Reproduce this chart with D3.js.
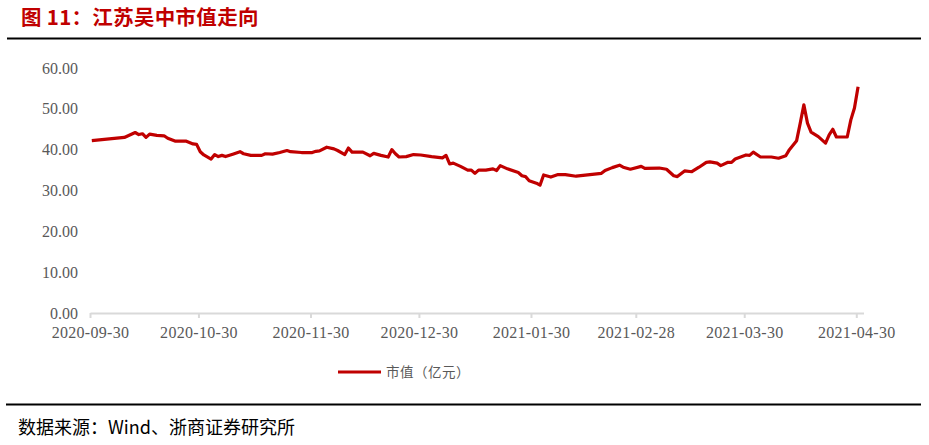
<!DOCTYPE html>
<html><head><meta charset="utf-8">
<script src="https://cdn.jsdelivr.net/npm/d3@7"></script>
<style>body{margin:0;background:#fff}</style>
</head><body><svg id="c" width="929" height="445"></svg>
<script>
const titleText = "图 11：江苏吴中市值走向";
const sourceText = "数据来源：Wind、浙商证券研究所";
const seriesName = "市值（亿元）";

const dates = [
 "2020-09-30","2020-10-09","2020-10-12","2020-10-13","2020-10-14","2020-10-15","2020-10-16","2020-10-18",
 "2020-10-20","2020-10-21","2020-10-23","2020-10-26","2020-10-28","2020-10-29","2020-10-30","2020-10-31",
 "2020-11-02","2020-11-03","2020-11-04","2020-11-05","2020-11-06","2020-11-08","2020-11-10","2020-11-11",
 "2020-11-13","2020-11-16","2020-11-17","2020-11-19","2020-11-21","2020-11-23","2020-11-24","2020-11-27",
 "2020-11-30","2020-12-01","2020-12-02","2020-12-04","2020-12-06","2020-12-07","2020-12-09","2020-12-10",
 "2020-12-11","2020-12-14","2020-12-16","2020-12-17","2020-12-19","2020-12-21","2020-12-22","2020-12-23",
 "2020-12-24","2020-12-26","2020-12-28","2020-12-30","2021-01-02","2021-01-05","2021-01-06","2021-01-07",
 "2021-01-08","2021-01-10","2021-01-12","2021-01-13","2021-01-14","2021-01-15","2021-01-17","2021-01-19",
 "2021-01-20","2021-01-21","2021-01-23","2021-01-26","2021-01-27","2021-01-28","2021-01-29","2021-01-31",
 "2021-02-01","2021-02-02","2021-02-04","2021-02-06","2021-02-08","2021-02-11","2021-02-18","2021-02-19",
 "2021-02-21","2021-02-23","2021-02-24","2021-02-26","2021-03-01","2021-03-02","2021-03-06","2021-03-08",
 "2021-03-10","2021-03-11","2021-03-13","2021-03-15","2021-03-17","2021-03-19","2021-03-20","2021-03-22",
 "2021-03-23","2021-03-25","2021-03-26","2021-03-27","2021-03-30","2021-03-31","2021-04-01","2021-04-03",
 "2021-04-06","2021-04-08","2021-04-10","2021-04-11","2021-04-13","2021-04-14","2021-04-15","2021-04-16",
 "2021-04-17","2021-04-19","2021-04-21","2021-04-22","2021-04-23","2021-04-24","2021-04-27","2021-04-28",
 "2021-04-29","2021-04-30"
];
const values = [
 42.2,43.0,44.2,43.7,43.9,43.0,43.8,43.5,
 43.4,42.8,42.1,42.1,41.4,41.3,39.5,38.7,
 37.7,38.8,38.3,38.6,38.3,38.9,39.5,39.0,
 38.6,38.6,39.0,38.9,39.3,39.8,39.5,39.3,
 39.3,39.6,39.7,40.6,40.2,39.8,38.8,40.4,
 39.4,39.4,38.5,39.1,38.6,38.2,40.0,39.0,
 38.2,38.3,38.8,38.7,38.3,38.0,38.6,36.5,
 36.7,35.9,35.0,35.0,34.2,35.0,35.0,35.3,
 34.9,36.1,35.3,34.4,33.6,33.4,32.4,31.8,
 31.3,33.8,33.3,33.9,33.9,33.5,34.2,34.9,
 35.6,36.2,35.7,35.2,35.9,35.4,35.5,35.2,
 33.6,33.4,34.8,34.6,35.7,36.9,37.0,36.7,
 36.1,36.9,36.9,37.7,38.7,38.6,39.4,38.2,
 38.2,37.9,38.5,40.0,42.2,46.5,51.0,46.5,
 44.3,43.2,41.6,43.6,45.0,43.1,43.1,47.3,
 50.2,55.4
];
const yTicks = [0,10,20,30,40,50,60];
const xTickDates = ["2020-09-30","2020-10-30","2020-11-30","2020-12-30","2021-01-30","2021-02-28","2021-03-30","2021-04-30"];
const xTickLabels = ["2020-09-30","2020-10-30","2020-11-30","2020-12-30","2021-01-30","2021-02-28","2021-03-30","2021-04-30"];

const red = "#C00000", gray = "#595959";
const parse = d3.utcParse("%Y-%m-%d");
const svg = d3.select("#c");

// title and rules
svg.append("text").attr("x",21).attr("y",25)
  .attr("font-family","'Noto Sans CJK SC', sans-serif").attr("font-weight","bold")
  .attr("font-size",20.5).attr("letter-spacing","0.3px").attr("fill",red).text(titleText);
svg.append("line").attr("x1",7).attr("x2",921).attr("y1",38.5).attr("y2",38.5)
  .attr("stroke","#000").attr("stroke-width",2);
svg.append("line").attr("x1",6).attr("x2",921).attr("y1",404.5).attr("y2",404.5)
  .attr("stroke","#000").attr("stroke-width",2);
svg.append("text").attr("x",18).attr("y",434)
  .attr("font-family","'Noto Sans CJK SC', sans-serif").attr("font-size",18)
  .attr("fill","#000").text(sourceText);

// scales
const x = d3.scaleUtc().domain([parse("2020-09-30"), parse("2021-05-02")]).range([90, 863.5]);
const y = d3.scaleLinear().domain([0,60]).range([313, 68]);
const half = 12*3600*1000;

// y labels
svg.append("g").selectAll("text").data(yTicks).join("text")
  .attr("x",78).attr("y",d=>y(d)).attr("dy","0.35em").attr("text-anchor","end")
  .attr("font-family","'Liberation Serif', serif").attr("font-size",16).attr("fill",gray)
  .text(d=>d.toFixed(2));

// x axis
const xa = svg.append("g").attr("transform","translate(0,313)")
  .call(d3.axisBottom(x).tickValues(xTickDates.map(parse))
    .tickFormat((d,i)=>xTickLabels[i]).tickSize(5).tickSizeOuter(0).tickPadding(9));
xa.select(".domain").attr("stroke","#D9D9D9").attr("stroke-width",2);
xa.selectAll(".tick line").attr("stroke","#D9D9D9").attr("stroke-width",2);
xa.selectAll(".tick text").attr("font-family","'Liberation Serif', serif")
  .attr("font-size",16).attr("letter-spacing","0.3px").attr("fill",gray);

// line
const pts = dates.map((d,i)=>({d:parse(d), v:values[i]}));
svg.append("path").datum(pts)
  .attr("fill","none").attr("stroke",red).attr("stroke-width",3.2)
  .attr("stroke-linejoin","round")
  .attr("d", d3.line().x(p=>x(new Date(+p.d+half))).y(p=>y(p.v)));

// legend
svg.append("line").attr("x1",338).attr("x2",381).attr("y1",372).attr("y2",372)
  .attr("stroke",red).attr("stroke-width",3.2);
svg.append("text").attr("x",386).attr("y",377)
  .attr("font-family","'Noto Sans CJK SC', sans-serif").attr("font-size",13.5)
  .attr("letter-spacing","0.5px").attr("fill",gray).text(seriesName);
</script>
</body></html>
